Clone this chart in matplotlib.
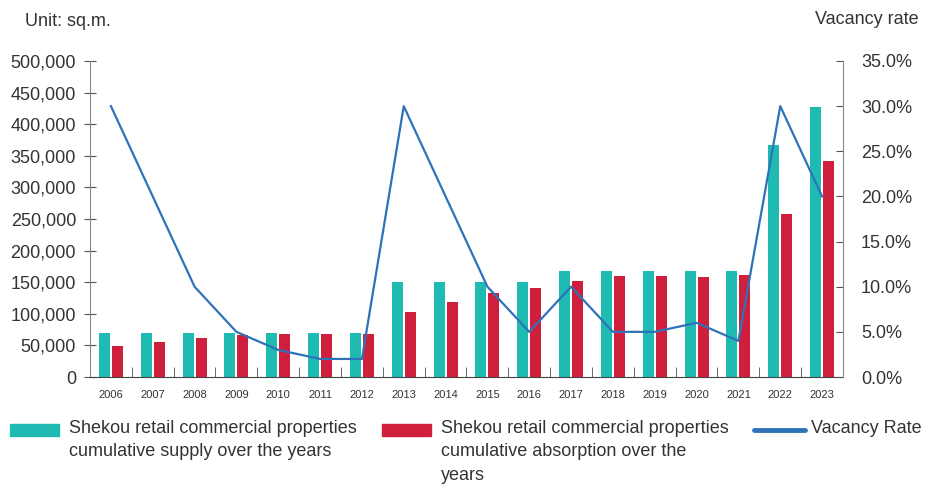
import numpy as np
import matplotlib.pyplot as plt
import matplotlib.ticker as ticker
from matplotlib.patches import Rectangle
from matplotlib.lines import Line2D

plt.rcParams["font.family"] = ["Liberation Sans", "DejaVu Sans"]
plt.rcParams["text.color"] = "#333333"
plt.rcParams["xtick.color"] = "#555555"
plt.rcParams["ytick.color"] = "#555555"
plt.rcParams["xtick.labelcolor"] = "#333333"
plt.rcParams["ytick.labelcolor"] = "#333333"

years = [str(y) for y in range(2006, 2024)]
supply = [70000, 70000, 70000, 70000, 70000, 70000, 70000,
          150000, 150000, 150000, 150000,
          168000, 168000, 168000, 168000, 168000, 367000, 428000]
absorption = [49000, 55500, 62000, 66500, 68000, 68000, 68000,
              103000, 119000, 133000, 141000,
              152000, 160000, 160000, 158000, 161000, 258000, 342000]
vacancy = [30, 20, 10, 5, 3, 2, 2, 30, 20, 10, 5, 10, 5, 5, 6, 4, 30, 20]

teal = "#1fbbb3"
red = "#d01f3c"
blue = "#2e73b8"

W, H = 929, 487
fig = plt.figure(figsize=(W / 100, H / 100), dpi=100)


def fx(px):
    return px / W


def fy(py):
    return 1 - py / H


ax = fig.add_axes([fx(90), fy(377), 753 / W, 316 / H])
x = np.arange(len(years))
w = 0.26
ax.bar(x - 0.155, supply, w, color=teal, zorder=2)
ax.bar(x + 0.155, absorption, w, color=red, zorder=2)
ax.set_xlim(-0.5, len(years) - 0.5)
ax.set_ylim(0, 500000)
ax.yaxis.set_major_locator(ticker.MultipleLocator(50000))
ax.yaxis.set_major_formatter(ticker.FuncFormatter(lambda v, p: f"{int(v):,}"))
ax.set_xticks(x)
ax.set_xticklabels(years, fontsize=8)
ax.set_xticks(np.arange(-0.5, len(years), 1), minor=True)
ax.tick_params(axis="x", which="major", length=0, pad=9)
ax.tick_params(axis="x", which="minor", direction="in", length=7)
ax.tick_params(axis="y", labelsize=13, direction="inout", length=8, pad=6)
ax.spines["top"].set_visible(False)
ax.spines["right"].set_visible(False)
ax.spines["left"].set_color("#888888")
ax.spines["bottom"].set_color("#444444")

ax2 = ax.twinx()
ax2.plot(x, vacancy, color=blue, lw=1.6, zorder=3)
ax2.set_ylim(0, 35)
ax2.yaxis.set_major_locator(ticker.MultipleLocator(5))
ax2.yaxis.set_major_formatter(ticker.FuncFormatter(lambda v, p: f"{v:.1f}%"))
ax2.tick_params(axis="y", labelsize=13, direction="in", length=5, pad=13)
for s in ["top", "left", "bottom"]:
    ax2.spines[s].set_visible(False)
ax2.spines["right"].set_color("#888888")

fig.text(fx(25), fy(21), "Unit: sq.m.", fontsize=13, va="center", ha="left")
fig.text(fx(919), fy(20), "Vacancy rate", fontsize=13, va="center", ha="right")

# legend drawn by hand so the text wraps like the original
fig.add_artist(Rectangle((fx(10), fy(436)), 49 / W, 12 / H, color=teal,
                         transform=fig.transFigure))
fig.add_artist(Rectangle((fx(382), fy(436)), 49 / W, 12 / H, color=red,
                         transform=fig.transFigure))
fig.add_artist(Line2D([fx(754), fx(805)], [fy(430), fy(430)], color=blue, lw=3.5,
                      solid_capstyle="round", transform=fig.transFigure))
labels = ["Shekou retail commercial properties\ncumulative supply over the years",
          "Shekou retail commercial properties\ncumulative absorption over the\nyears",
          "Vacancy Rate"]
for lx, lab in zip([69, 441, 811], labels):
    fig.text(fx(lx), fy(420), lab, fontsize=13, va="top", ha="left", linespacing=1.5)

fig.savefig("out.png", dpi=100)
